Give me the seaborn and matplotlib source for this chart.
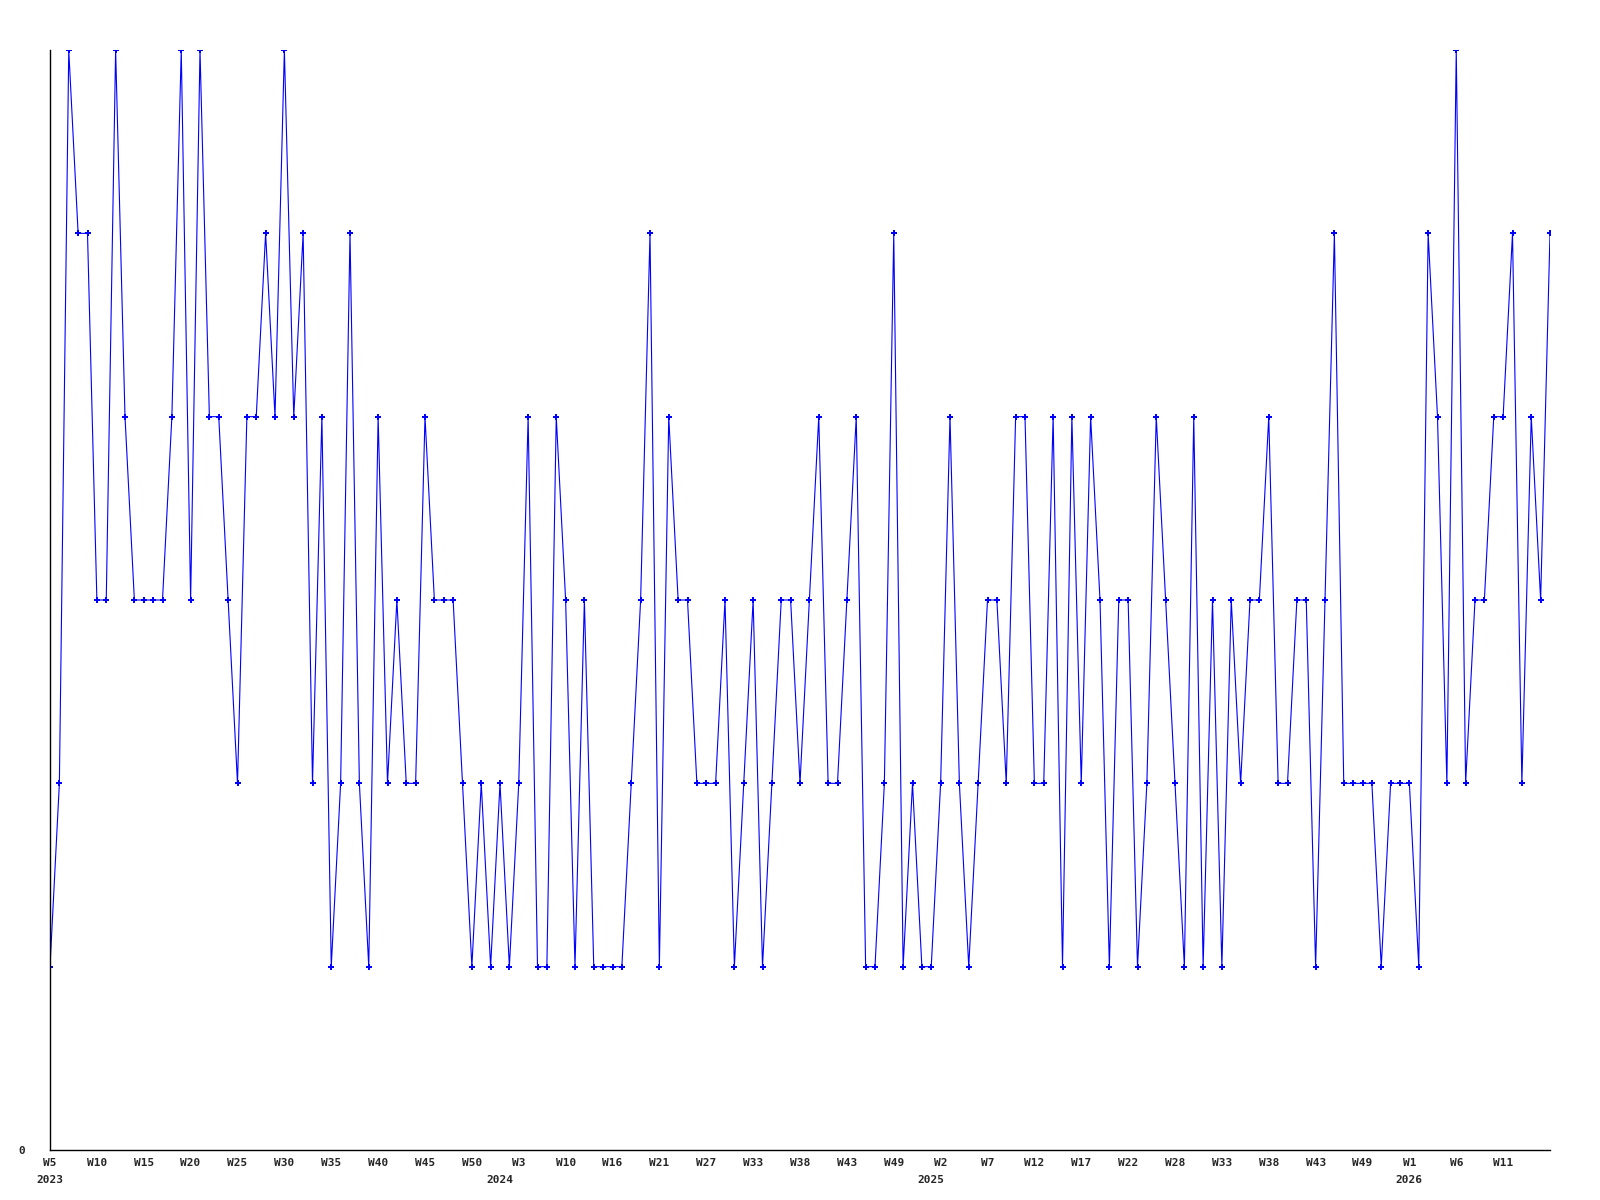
import matplotlib
matplotlib.use("Agg")
import matplotlib.pyplot as plt
import matplotlib.transforms as mtransforms
import seaborn as sns
import pandas as pd

# weekly counts, one value per sample (2023 W5 onwards)
counts = [
    1, 2, 6, 5, 5, 3, 3, 6, 4, 3, 3, 3, 3, 4, 6, 3, 6, 4, 4, 3, 2, 4, 4,
    5, 4, 6, 4, 5, 2, 4, 1, 2, 5, 2, 1, 4, 2, 3, 2, 2, 4, 3, 3, 3, 2,
    1, 2, 1, 2, 1, 2, 4, 1, 1, 4, 3, 1, 3, 1, 1, 1, 1, 2, 3, 5, 1, 4, 3,
    3, 2, 2, 2, 3, 1, 2, 3, 1, 2, 3, 3, 2, 3, 4, 2, 2, 3, 4, 1, 1, 2, 5,
    1, 2, 1, 1, 2, 4, 2, 1, 2, 3, 3, 2, 4, 4, 2, 2, 4, 1, 4, 2, 4, 3, 1,
    3, 3, 1, 2, 4, 3, 2, 1, 4, 1, 3, 1, 3, 2, 3, 3, 4, 2, 2, 3, 3, 1, 3,
    5, 2, 2, 2, 2, 1, 2, 2, 2, 1, 5, 4, 2, 6, 2, 3, 3, 4, 4, 5, 2, 4, 3, 5,
]

# labels every 5th sample
week_labels = [
    "W5", "W10", "W15", "W20", "W25", "W30", "W35", "W40", "W45", "W50",
    "W3", "W10", "W16", "W21", "W27", "W33", "W38", "W43", "W49",
    "W2", "W7", "W12", "W17", "W22", "W28", "W33", "W38", "W43", "W49",
    "W1", "W6", "W11",
]
# position (in week_labels) of the first label of each year
year_first_label = [0, 10, 19, 29]
years = ["2023", "2024", "2025", "2026"]

df = pd.DataFrame({"idx": range(len(counts)), "count": counts})

sns.set_style("white")
plt.rcParams["font.family"] = ["DejaVu Sans Mono", "DejaVu Sans"]
plt.rcParams["font.weight"] = "bold"

fig = plt.figure(figsize=(16, 12), dpi=100)
ax = fig.add_axes([50 / 1600, 50 / 1200, 1500 / 1600, 1100 / 1200])

sns.lineplot(data=df, x="idx", y="count", ax=ax, color="#0000ff",
             linewidth=0.8, marker="P", markersize=4.5, markeredgewidth=0)

ax.set_xlim(0, len(counts) - 1)
ax.set_ylim(0, 6)

tick_pos = list(range(0, 5 * len(week_labels), 5))
ax.set_xticks(tick_pos)
ax.set_xticklabels(week_labels, fontsize=8, fontweight="bold")
ax.set_yticks([0])
ax.set_yticklabels(["0"], fontsize=8, fontweight="bold")
ax.tick_params(axis="x", length=0, pad=6)
ax.tick_params(axis="y", length=0, pad=18)

# year names sit under week 1 of each year
trans = mtransforms.blended_transform_factory(ax.transData, ax.transAxes)
for li, yr in zip(year_first_label, years):
    wk = int(week_labels[li][1:])
    x0 = max(tick_pos[li] - (wk - 1), 0)
    ax.text(x0, -0.0275, yr, transform=trans, ha="center", va="center",
            fontsize=8, fontweight="bold")

ax.set_xlabel("")
ax.set_ylabel("")
for side in ["top", "right"]:
    ax.spines[side].set_visible(False)
for side in ["left", "bottom"]:
    ax.spines[side].set_color("black")
    ax.spines[side].set_linewidth(1)
ax.grid(False)

fig.savefig("out.png", dpi=100)
